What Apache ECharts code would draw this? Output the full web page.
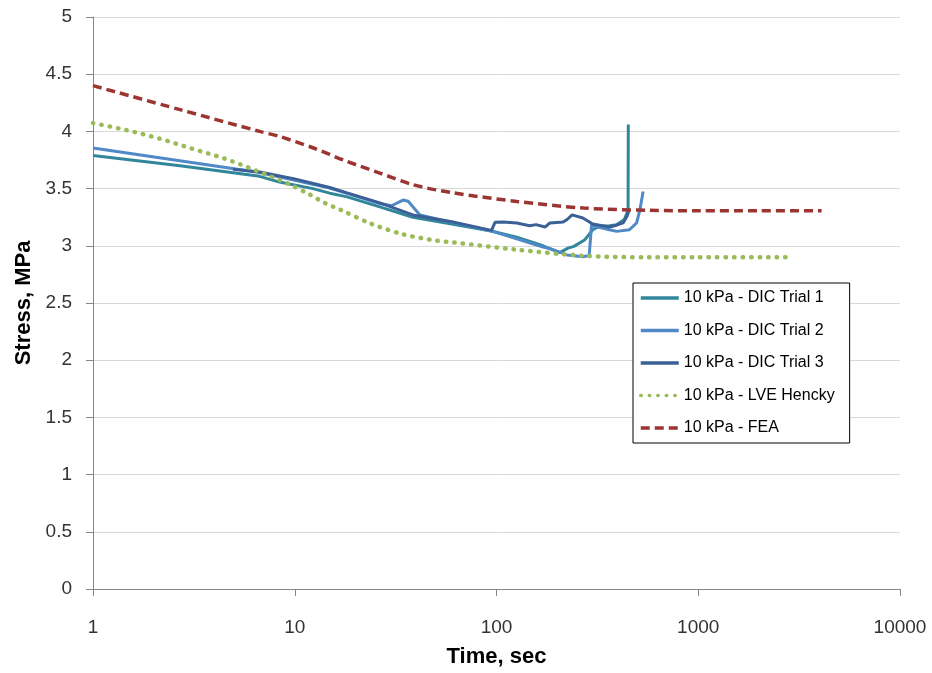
<!DOCTYPE html>
<html>
<head>
<meta charset="utf-8">
<script src="https://cdn.jsdelivr.net/npm/echarts@6/dist/echarts.min.js"></script>
<style>
  html, body { margin: 0; padding: 0; background: #fff; }
  #chart { width: 932px; height: 673px; }
</style>
</head>
<body>
<div id="chart"></div>
<script>
// ---- Data (time in sec, stress in MPa) ----
const seriesNames = ['10 kPa - DIC Trial 1', '10 kPa - DIC Trial 2', '10 kPa - DIC Trial 3', '10 kPa - LVE Hencky', '10 kPa - FEA'];

const trial1Time   = [1, 2.7, 6.7, 8.4, 12.3, 14.9, 18, 26.4, 38.5, 60, 94, 126, 170, 206, 226, 242, 273, 300, 322, 363, 394, 430, 449, 450];
const trial1Stress = [3.79, 3.70, 3.607, 3.557, 3.50, 3.46, 3.43, 3.34, 3.25, 3.19, 3.13, 3.075, 3.0, 2.94, 2.98, 2.995, 3.05, 3.14, 3.17, 3.175, 3.185, 3.23, 3.31, 4.06];

const trial2Time   = [1, 6.7, 14.9, 18, 26.4, 30.2, 34.4, 36.5, 41.7, 60, 94, 126, 170, 184, 224, 268, 280, 288, 296, 307, 363, 394, 456, 495, 514, 533];
const trial2Stress = [3.855, 3.64, 3.505, 3.46, 3.37, 3.35, 3.40, 3.39, 3.27, 3.205, 3.13, 3.06, 2.99, 2.975, 2.92, 2.905, 2.91, 2.915, 3.185, 3.17, 3.14, 3.126, 3.14, 3.20, 3.316, 3.475];

const trial3Time   = [4.94, 6.7, 10, 14.9, 18, 26.4, 38.5, 60, 94.5, 98.3, 108, 126, 146, 157, 174, 184, 214, 224, 237, 268, 300, 363, 394, 424, 443, 455];
const trial3Stress = [3.67, 3.645, 3.585, 3.51, 3.465, 3.375, 3.27, 3.21, 3.135, 3.205, 3.208, 3.20, 3.176, 3.185, 3.164, 3.20, 3.208, 3.23, 3.27, 3.243, 3.19, 3.165, 3.18, 3.2, 3.257, 3.315];

const lveTime   = [1, 1.46, 2.12, 3.07, 4.46, 6.46, 9.27, 11.9, 14.1, 16.8, 23.9, 34.5, 50.4, 61, 126, 268, 575, 1000, 2900];
const lveStress = [4.073, 4.012, 3.939, 3.851, 3.764, 3.656, 3.543, 3.447, 3.374, 3.316, 3.193, 3.10, 3.045, 3.03, 2.966, 2.913, 2.90, 2.90, 2.90];

const feaTime   = [1, 2.7, 6.7, 8.4, 12.3, 18, 26.4, 38.5, 60, 126, 270, 575, 1000, 2000, 4085];
const feaStress = [4.40, 4.19, 4.00, 3.956, 3.857, 3.74, 3.636, 3.534, 3.465, 3.388, 3.33, 3.31, 3.307, 3.307, 3.307];

const xTickLabels = ['1', '10', '100', '1000', '10000'];
const yTickLabels = ['0', '0.5', '1', '1.5', '2', '2.5', '3', '3.5', '4', '4.5', '5'];

const pairs = (t, s) => t.map((v, i) => [v, s[i]]);

const colors = ['#31869B', '#5089C8', '#3A6096', '#9BBB59', '#9C3531'];
const FONT = '"Liberation Sans", Arial, sans-serif';

const chart = echarts.init(document.getElementById('chart'), null, { renderer: 'canvas' });

const lineSeries = (name, data, color, extra) => Object.assign({
  name: name,
  type: 'line',
  data: data,
  symbol: 'none',
  showSymbol: false,
  animation: false,
  lineStyle: { color: color, width: 3 },
  itemStyle: { color: color },
  emphasis: { disabled: true }
}, extra || {});

chart.setOption({
  animation: false,
  backgroundColor: '#ffffff',
  grid: { left: 93, right: 32, top: 17, bottom: 84, containLabel: false },
  xAxis: {
    type: 'log',
    logBase: 10,
    min: 1,
    max: 10000,
    name: 'Time, sec',
    nameLocation: 'middle',
    nameGap: 57,
    nameTextStyle: { fontFamily: FONT, fontWeight: 'bold', fontSize: 22, color: '#000' },
    axisLine: { show: true, lineStyle: { color: '#868686', width: 1 } },
    axisTick: { show: true, length: 7, lineStyle: { color: '#868686' } },
    minorTick: { show: false },
    splitLine: { show: false },
    axisLabel: {
      fontFamily: FONT, fontSize: 19, color: '#333', margin: 29,
      formatter: v => xTickLabels[Math.round(Math.log10(v))]
    }
  },
  yAxis: {
    type: 'value',
    min: 0,
    max: 5,
    interval: 0.5,
    name: 'Stress, MPa',
    nameLocation: 'middle',
    nameGap: 57,
    nameTextStyle: { fontFamily: FONT, fontWeight: 'bold', fontSize: 22, color: '#000' },
    axisLine: { show: true, lineStyle: { color: '#868686', width: 1 } },
    axisTick: { show: true, length: 7, lineStyle: { color: '#868686' } },
    splitLine: { show: true, lineStyle: { color: '#d9d9d9', width: 1 } },
    axisLabel: {
      fontFamily: FONT, fontSize: 19, color: '#333', margin: 21,
      formatter: v => yTickLabels[Math.round(v * 2)]
    }
  },
  legend: {
    orient: 'vertical',
    left: 633,
    top: 283,
    padding: [7, 15, 7, 6],
    itemGap: 16.5,
    itemWidth: 38,
    itemHeight: 16,
    borderColor: '#000',
    borderWidth: 1,
    backgroundColor: '#fff',
    itemStyle: { opacity: 0 },
    lineStyle: { width: 3.5 },
    textStyle: { fontFamily: FONT, fontSize: 16, color: '#000' },
    data: seriesNames
  },
  series: [
    lineSeries(seriesNames[0], pairs(trial1Time, trial1Stress), colors[0]),
    lineSeries(seriesNames[1], pairs(trial2Time, trial2Stress), colors[1]),
    lineSeries(seriesNames[2], pairs(trial3Time, trial3Stress), colors[2]),
    lineSeries(seriesNames[3], pairs(lveTime, lveStress), colors[3], {
      smooth: 0.3,
      lineStyle: { color: colors[3], width: 4.5, type: [0.5, 8], cap: 'round' }
    }),
    lineSeries(seriesNames[4], pairs(feaTime, feaStress), colors[4], {
      smooth: 0.3,
      lineStyle: { color: colors[4], width: 3.5, type: [9, 5] }
    })
  ]
});
</script>
</body>
</html>
